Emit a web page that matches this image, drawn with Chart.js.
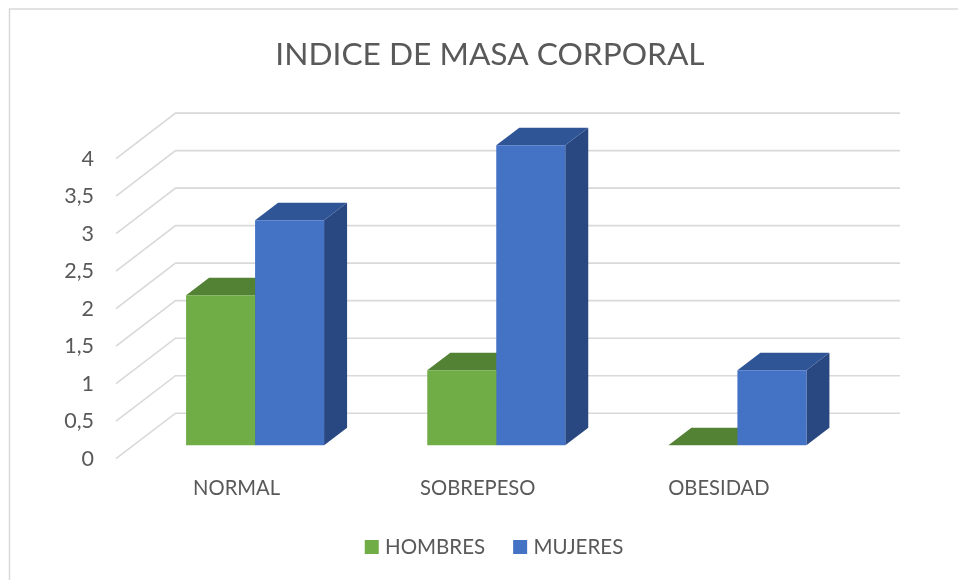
<!DOCTYPE html>
<html><head><meta charset="utf-8">
<style>html,body{margin:0;padding:0;background:#fff}canvas{display:block}</style>
<script src="https://cdn.jsdelivr.net/npm/chart.js@4"></script>
</head><body><canvas id="c" width="958" height="580"></canvas>
<script>
const categories = ['NORMAL','SOBREPESO','OBESIDAD'];
const hombres = [2,1,0];
const mujeres = [3,4,1];
const tickValues = [0,0.5,1,1.5,2,2.5,3,3.5,4];
const tickLabels = ['0','0,5','1','1,5','2','2,5','3','3,5','4'];
const FONT = 'Lato, Carlito, sans-serif';
const GREY = '#595959', GRID = '#D9D9D9';
const faces = {
  HOMBRES:{top:'#548235',side:'#43682B'},
  MUJERES:{top:'#2F5597',side:'#294780'}
};
const depth = {x:23,y:17.5};
const wall = {frontX:116,backX:175.5,dy:45.5,rightX:900};
const LEGEND_PAD = 32, LEGEND_Y = 547;
const scene = {
  id:'scene',
  afterLayout(chart){
    chart.titleBlock.left += 61; chart.titleBlock.right += 61;
    const lg = chart.legend;
    lg.left += 67; lg.right += 67;
    const h = lg.bottom-lg.top;
    lg.top = LEGEND_Y-10.25-LEGEND_PAD; lg.bottom = lg.top+h;
  },
  beforeDraw(chart){
    const c = chart.ctx;
    c.save();
    c.fillStyle = '#fff'; c.fillRect(0,0,chart.width,chart.height);
    c.strokeStyle = GRID; c.lineWidth = 1.5;
    c.beginPath(); c.moveTo(9.5,chart.height); c.lineTo(9.5,9); c.lineTo(chart.width,9); c.stroke();
    c.restore();
  },
  beforeDatasetsDraw(chart){
    const c = chart.ctx, s = chart.scales.yLabels;
    c.save();
    c.strokeStyle = GRID; c.lineWidth = 1.6; c.lineJoin='miter';
    s.ticks.forEach(t=>{
      const y = s.getPixelForValue(t.value);
      c.beginPath(); c.moveTo(wall.frontX,y); c.lineTo(wall.backX,y-wall.dy); c.lineTo(wall.rightX,y-wall.dy); c.stroke();
    });
    chart.data.datasets.forEach((d,i)=>{
      const f = faces[d.label];
      chart.getDatasetMeta(i).data.forEach(b=>{
        const l = b.x-b.width/2, r = b.x+b.width/2;
        c.fillStyle = f.side;
        c.beginPath(); c.moveTo(r,b.y); c.lineTo(r+depth.x,b.y-depth.y); c.lineTo(r+depth.x,b.base-depth.y); c.lineTo(r,b.base); c.closePath(); c.fill();
        c.fillStyle = f.top;
        c.beginPath(); c.moveTo(l,b.y); c.lineTo(l+depth.x,b.y-depth.y); c.lineTo(r+depth.x,b.y-depth.y); c.lineTo(r,b.y); c.closePath(); c.fill();
      });
    });
    c.restore();
  }
};
const BAR_SHARE = 0.5722;
new Chart(document.getElementById('c'),{
  type:'bar',
  plugins:[scene],
  data:{labels:categories,datasets:[
    {label:'HOMBRES',data:hombres,backgroundColor:'#70AD47',borderWidth:0,yAxisID:'y'},
    {label:'MUJERES',data:mujeres,backgroundColor:'#4472C4',borderWidth:0,yAxisID:'y'}
  ]},
  options:{
    responsive:false,animation:false,
    categoryPercentage:BAR_SHARE,barPercentage:1,
    layout:{padding:{left:0,right:100,top:0,bottom:0}},
    plugins:{
      tooltip:{enabled:false},
      title:{display:true,text:'INDICE DE MASA CORPORAL',color:GREY,font:{family:FONT,size:31.7,weight:'normal'},padding:{top:35.5,bottom:26.5}},
      legend:{position:'bottom',labels:{
        color:GREY,font:{family:FONT,size:20.5},boxWidth:6,boxHeight:6,padding:LEGEND_PAD,
        generateLabels(chart){return chart.data.datasets.map((d,i)=>({text:d.label,fillStyle:d.backgroundColor,strokeStyle:d.backgroundColor,lineWidth:8,fontColor:GREY,datasetIndex:i}));}
      }}
    },
    scales:{
      x:{grid:{display:false},border:{display:false},
        ticks:{color:GREY,font:{family:FONT,size:20.2},labelOffset:-18.5,padding:10,maxRotation:0},
        afterFit(s){s.height=58.8;}},
      y:{display:false,min:-0.178,max:4.603},
      yLabels:{position:'left',min:0,max:4.781,grid:{display:false},border:{display:false},
        afterBuildTicks(s){s.ticks=tickValues.map(v=>({value:v}));},
        afterFit(s){s.width=134.5;},
        ticks:{color:GREY,font:{family:FONT,size:21.5},padding:32.5,autoSkip:false,callback:(v,i)=>tickLabels[i]}}
    }
  }
});
</script></body></html>
